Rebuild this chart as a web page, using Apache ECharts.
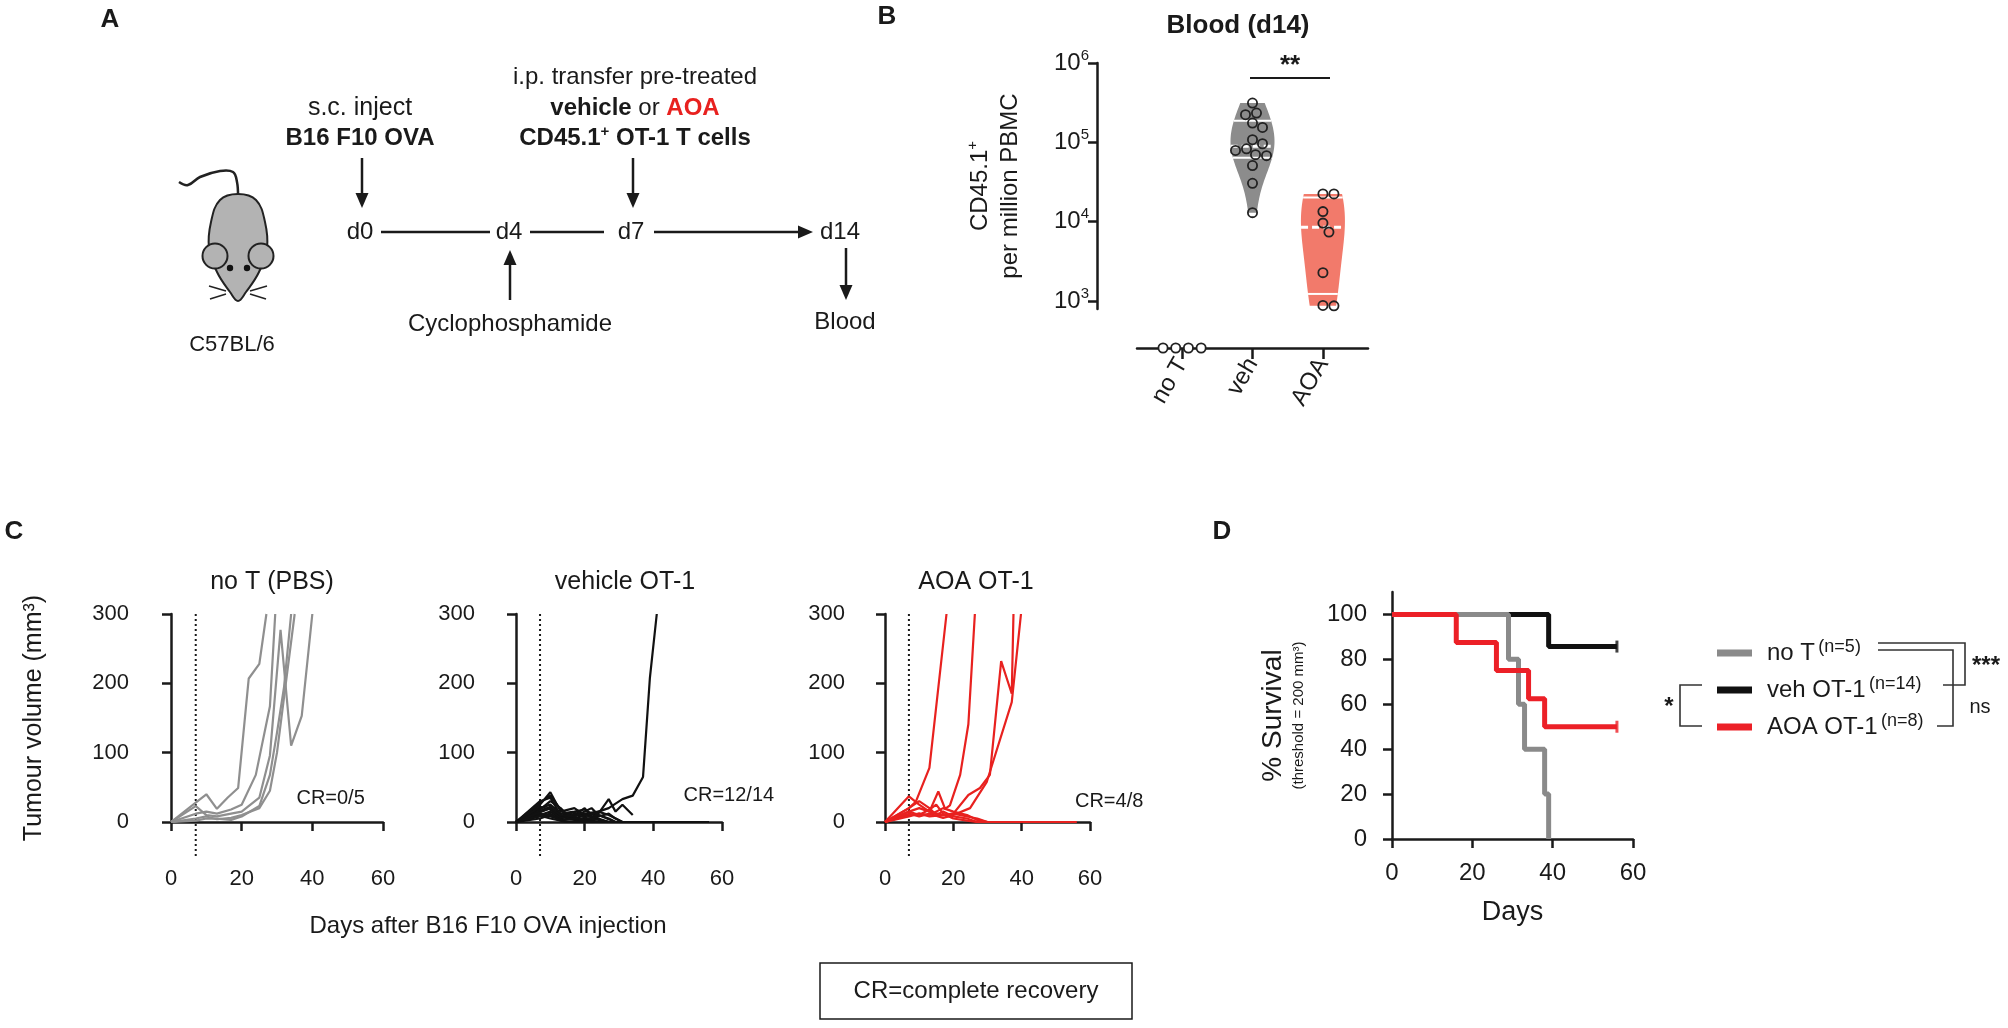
<!DOCTYPE html>
<html>
<head>
<meta charset="utf-8">
<script src="https://cdn.jsdelivr.net/npm/echarts@6/dist/echarts.min.js"></script>
<style>
  html, body { margin: 0; padding: 0; background: #fff; }
  #chart { width: 2008px; height: 1028px; }
</style>
</head>
<body>
<div id="chart"></div>
<script>
// ---------- data ----------
// B: CD45.1+ cells per million PBMC in blood at d14
const bCategories = ['no T', 'veh', 'AOA'];
const bTicks = [1e3, 1e4, 1e5, 1e6];
const bloodNoT = [0, 0, 0, 0];
const bloodVeh = [313000, 234000, 223000, 175000, 154000, 108000, 96000, 83000, 79000, 70000, 68000, 51000, 30500, 13000];
const bloodAOA = [22400, 22400, 13400, 9600, 7400, 2280, 880, 870];

// C: tumour volume (mm3) per mouse, [day, volume]
const transferDay = 7;
const noTMice = [
  [[0,0],[7,28],[10,40],[13,19],[16,35],[19,49],[22,207],[25,228],[27,300]],
  [[0,0],[7,12],[10,15],[13,12],[17,18],[20,25],[24,68],[28,167],[29.5,300]],
  [[0,0],[7,23],[10,10],[13,8],[17,12],[20,15],[25,35],[28,96],[31,277],[34,110],[37,153],[40,300]],
  [[0,0],[7,2],[10,5],[13,5],[17,3],[20,8],[25,23],[28,68],[30,129],[32,195],[34,300]],
  [[0,0],[7,5],[10,8],[13,4],[17,6],[20,10],[25,20],[28,45],[30,100],[32,180],[35,300]]
];
const vehMice = [
  [[0,0],[7,15],[10,20],[13,8],[17,10],[20,12],[24,15],[27,20],[31,33],[34,38],[37,65],[39,208],[41,300]],
  [[0,0],[7,25],[10,43],[13,15],[17,20],[20,10],[24,12],[27,33],[29,15],[31,25],[34,10]],
  [[0,0],[7,30],[10,35],[13,10],[15,5],[17,8],[20,3],[24,0],[56,0]],
  [[0,0],[7,20],[10,25],[13,12],[17,15],[20,18],[22,12],[24,5],[27,0],[56,0]],
  [[0,0],[7,10],[10,15],[13,5],[17,10],[20,20],[22,8],[24,10],[27,5],[29,0],[56,0]],
  [[0,0],[7,18],[10,30],[13,20],[15,10],[17,5],[20,5],[24,0],[56,0]],
  [[0,0],[7,12],[10,8],[13,4],[17,3],[20,0],[56,0]],
  [[0,0],[7,22],[10,18],[13,6],[17,12],[20,8],[24,15],[27,10],[29,5],[31,0],[56,0]],
  [[0,0],[7,8],[10,12],[13,3],[17,5],[20,10],[24,4],[27,0],[56,0]],
  [[0,0],[7,28],[10,38],[13,18],[15,8],[17,4],[20,2],[22,0],[56,0]],
  [[0,0],[7,5],[10,10],[13,2],[17,6],[20,4],[24,8],[27,12],[29,5],[31,0],[56,0]],
  [[0,0],[7,16],[10,22],[13,9],[17,14],[20,6],[24,3],[27,0],[56,0]],
  [[0,0],[7,14],[10,20],[13,10],[17,8],[20,15],[22,20],[24,10],[27,4],[29,0],[56,0]],
  [[0,0],[7,9],[10,5],[13,2],[15,0],[56,0]]
];
const aoaMice = [
  [[0,0],[7,20],[9,29],[13,78],[18,300]],
  [[0,0],[7,15],[10,20],[13,15],[15.6,44],[17.6,19],[19,24],[22,68],[24.4,141],[26.3,300]],
  [[0,0],[7,10],[10,12],[13,8],[17,10],[20,12],[24.4,39],[27.8,49],[30.7,68],[34,232],[37.1,185],[37.6,300]],
  [[0,0],[7,12],[10,8],[13,12],[17,6],[20,10],[24.9,20],[29.8,58],[31.7,88],[37.1,173],[39.8,300]],
  [[0,0],[7,37],[10,25],[13,15],[17,10],[20,12],[24,8],[27,5],[30,0],[56,0]],
  [[0,0],[7,20],[10,30],[13,20],[15,10],[17,15],[20,8],[24,5],[27,0],[56,0]],
  [[0,0],[7,8],[10,12],[13,10],[17,20],[20,15],[24,10],[27,3],[30,0],[56,0]],
  [[0,0],[7,15],[10,10],[13,18],[15,25],[17,12],[20,5],[24,2],[27,0],[56,0]]
];
const crText = ['CR=0/5', 'CR=12/14', 'CR=4/8'];

// D: Kaplan-Meier survival (threshold 200 mm3)
const survNames = ['no T', 'veh OT-1', 'AOA OT-1'];
const survN = [5, 14, 8];
const survNoTDays = [0, 29, 31.5, 33, 38, 39];
const survNoT = [100, 80, 60, 40, 20, 0];
const survVehDays = [0, 39, 56];
const survVeh = [100, 85.7, 85.7];
const survAOADays = [0, 16, 26, 34, 38, 56];
const survAOA = [100, 87.5, 75, 62.5, 50, 50];
const survTicks = [0, 20, 40, 60, 80, 100];

// ---------- styling ----------
const FONT = "'Liberation Sans', Arial, Helvetica, sans-serif";
const INK = '#1a1a1a';
const GREY = '#8f8f8f';
const RED = '#e8211f';

const chart = echarts.init(document.getElementById('chart'), null, { renderer: 'canvas' });

function axisLineStyle() { return { show: true, lineStyle: { color: INK, width: 2.5 } }; }
function tickStyle(len) { return { show: true, length: len || 8, lineStyle: { color: INK, width: 2.5 } }; }

// ---------- helpers for panel B ----------
function log10(v) { return Math.log(v) / Math.LN10; }
function quantile(sorted, p) {
  const pos = (sorted.length + 1) * p;
  const lo = Math.floor(pos), f = pos - lo;
  if (lo < 1) return sorted[0];
  if (lo >= sorted.length) return sorted[sorted.length - 1];
  return sorted[lo - 1] + f * (sorted[lo] - sorted[lo - 1]);
}
function kde(logs, h, t) {
  let s = 0;
  for (const v of logs) { const z = (t - v) / h; s += Math.exp(-0.5 * z * z); }
  return s;
}
function swarm(ys, minDist, step) {
  const order = ys.map((y, i) => i).sort((a, b) => ys[a] - ys[b]);
  const placed = [], off = new Array(ys.length);
  for (const i of order) {
    for (let k = 0; k < 400; k++) {
      const cand = k === 0 ? 0 : (k % 2 ? 1 : -1) * Math.ceil(k / 2) * step;
      if (placed.every(p => (p.x - cand) ** 2 + (p.y - ys[i]) ** 2 >= minDist * minDist)) {
        off[i] = cand; placed.push({ x: cand, y: ys[i] }); break;
      }
    }
  }
  return off;
}

const bGroups = [
  { x: 2, values: bloodVeh, color: '#8c8c8c', bw: 0.3 },
  { x: 3, values: bloodAOA, color: '#f27a6b', bw: 0.5 }
];
const R = 4.6, HALFW = 22;

function renderViolin(params, api) {
  const g = bGroups[params.dataIndex];
  const logs = g.values.map(log10);
  const lo = Math.min(...logs), hi = Math.max(...logs);
  const steps = 70, prof = [];
  let maxD = 0;
  for (let i = 0; i <= steps; i++) {
    const t = lo + (hi - lo) * i / steps;
    const d = kde(logs, g.bw, t);
    prof.push([t, d]); maxD = Math.max(maxD, d);
  }
  const cx = api.coord([g.x, Math.pow(10, lo)])[0];
  const widthAt = t => kde(logs, g.bw, t) / maxD * HALFW;
  const left = [], right = [];
  prof.forEach(([t, d]) => {
    const y = api.coord([g.x, Math.pow(10, t)])[1];
    const w = d / maxD * HALFW;
    left.push([cx - w, y]); right.push([cx + w, y]);
  });
  const children = [{
    type: 'polygon', shape: { points: left.concat(right.reverse()) },
    style: { fill: g.color }
  }];
  const sorted = g.values.slice().sort((a, b) => a - b);
  [[0.25, false], [0.5, true], [0.75, false]].forEach(([p, isMed]) => {
    const q = quantile(sorted, p);
    const y = api.coord([g.x, q])[1];
    const w = widthAt(log10(q));
    children.push({
      type: 'line', shape: { x1: cx - w, y1: y, x2: cx + w, y2: y },
      style: { stroke: '#fff', lineWidth: isMed ? 3 : 2, lineDash: isMed ? [7, 4] : null }
    });
  });
  const ys = g.values.map(v => api.coord([g.x, v])[1]);
  const offs = swarm(ys, 2 * R + 1.5, 1);
  ys.forEach((y, i) => {
    children.push({
      type: 'circle', shape: { cx: cx + offs[i], cy: y, r: R },
      style: { fill: 'rgba(0,0,0,0)', stroke: '#222', lineWidth: 1.8 }
    });
  });
  return { type: 'group', children };
}

function renderZeroRow(params, api) {
  const p = api.coord([1, 0]);
  const n = bloodNoT.length, gap = 2 * R + 3.5;
  const children = bloodNoT.map((v, i) => ({
    type: 'circle', shape: { cx: p[0] + (i - (n - 1) / 2) * gap, cy: api.coord([1, v])[1], r: R },
    style: { fill: '#fff', stroke: '#222', lineWidth: 1.8 }
  }));
  return { type: 'group', children };
}

// ---------- panel A graphic helpers ----------
function txt(x, y, text, size, opts) {
  opts = opts || {};
  const style = {
    text: text, fontSize: size, fontWeight: opts.bold ? 'bold' : 'normal', fontFamily: FONT,
    fill: opts.color || INK, align: opts.align || 'center', verticalAlign: opts.va || 'middle'
  };
  if (opts.rich) style.rich = opts.rich;
  return { type: 'text', x: x, y: y, rotation: opts.rot || 0, z: 10, style: style };
}
function arrow(x1, y1, x2, y2) {
  const a = Math.atan2(y2 - y1, x2 - x1), hl = 15, hw = 6.5;
  const bx = x2 - hl * Math.cos(a), by = y2 - hl * Math.sin(a);
  return [
    { type: 'line', shape: { x1: x1, y1: y1, x2: bx, y2: by }, style: { stroke: INK, lineWidth: 2.5 } },
    { type: 'polygon', shape: { points: [[x2, y2], [bx - hw * Math.sin(a), by + hw * Math.cos(a)], [bx + hw * Math.sin(a), by - hw * Math.cos(a)]] }, style: { fill: INK } }
  ];
}
function seg(x1, y1, x2, y2, w, color) {
  return { type: 'line', shape: { x1: x1, y1: y1, x2: x2, y2: y2 }, style: { stroke: color || INK, lineWidth: w || 2.5 } };
}
function poly(points, w, color) {
  return { type: 'polyline', shape: { points: points }, style: { stroke: color || '#333', lineWidth: w || 1.6, fill: null } };
}

const boldRich = {
  b: { fontSize: 24, fontWeight: 'bold', fontFamily: FONT, fill: INK, lineHeight: 28 },
  n: { fontSize: 24, fontFamily: FONT, fill: INK, lineHeight: 28 },
  r: { fontSize: 24, fontWeight: 'bold', fontFamily: FONT, fill: RED, lineHeight: 28 },
  s: { fontSize: 15, fontWeight: 'bold', fontFamily: FONT, fill: INK, lineHeight: 14, verticalAlign: 'top' }
};

const graphics = [
  // panel letters
  txt(110, 20, 'A', 26, { bold: true }),
  txt(887, 17, 'B', 26, { bold: true }),
  txt(14, 532, 'C', 26, { bold: true }),
  txt(1222, 532, 'D', 26, { bold: true }),

  // mouse
  { type: 'polyline', shape: { points: [[179,182],[188,185],[200,177],[220,171],[233,172],[237,182],[238,196]], smooth: 0.4 },
    style: { stroke: '#222', lineWidth: 2.5, fill: null } },
  { type: 'polygon', shape: { points: [[238,194],[256,200],[265,222],[267,248],[259,272],[246,292],[238,301],[230,292],[217,272],[209,248],[211,222],[220,200]], smooth: 0.4 },
    style: { fill: '#b3b3b3', stroke: '#222', lineWidth: 2 } },
  { type: 'circle', shape: { cx: 215, cy: 256, r: 12.5 }, style: { fill: '#b3b3b3', stroke: '#222', lineWidth: 2 } },
  { type: 'circle', shape: { cx: 261, cy: 256, r: 12.5 }, style: { fill: '#b3b3b3', stroke: '#222', lineWidth: 2 } },
  { type: 'circle', shape: { cx: 230, cy: 268, r: 3.2 }, style: { fill: '#111' } },
  { type: 'circle', shape: { cx: 247, cy: 268, r: 3.2 }, style: { fill: '#111' } },
  seg(226, 291, 209, 286, 1.5, '#222'), seg(226, 294, 210, 299, 1.5, '#222'),
  seg(250, 291, 267, 286, 1.5, '#222'), seg(250, 294, 266, 299, 1.5, '#222'),
  txt(232, 345, 'C57BL/6', 22),

  // timeline texts
  txt(360, 108, 's.c. inject', 25),
  txt(360, 138, 'B16 F10 OVA', 24, { bold: true }),
  txt(635, 77, 'i.p. transfer pre-treated', 24),
  txt(635, 108, '{b|vehicle} {n|or} {r|AOA}', 24, { rich: boldRich }),
  txt(635, 138, '{b|CD45.1}{s|+}{b| OT-1 T cells}', 24, { rich: boldRich }),
  txt(360, 232, 'd0', 24),
  txt(509, 232, 'd4', 24),
  txt(631, 232, 'd7', 24),
  txt(840, 232, 'd14', 24),
  seg(381, 232, 490, 232), seg(530, 232, 604, 232),
  txt(510, 324, 'Cyclophosphamide', 24),
  txt(845, 322, 'Blood', 24),
  ...arrow(362, 158, 362, 208),
  ...arrow(633, 158, 633, 208),
  ...arrow(654, 232, 813, 232),
  ...arrow(510, 300, 510, 250),
  ...arrow(846, 248, 846, 300),

  // panel B annotation
  txt(1290, 66, '**', 26, { bold: true }),
  seg(1250, 78, 1330, 78, 2),

  // panel C common labels
  txt(488, 926, 'Days after B16 F10 OVA injection', 24),
  { type: 'rect', shape: { x: 820, y: 963, width: 312, height: 56 }, style: { fill: null, stroke: INK, lineWidth: 1.5 } },
  txt(976, 991, 'CR=complete recovery', 24),

  // panel D significance brackets
  poly([[1878, 643], [1965, 643], [1965, 685], [1943, 685]]),
  poly([[1878, 650], [1953, 650], [1953, 726], [1937, 726]]),
  poly([[1702, 685], [1680, 685], [1680, 726], [1702, 726]]),
  txt(1986, 666, '***', 24, { bold: true }),
  txt(1980, 707, 'ns', 20),
  txt(1669, 707, '*', 24, { bold: true })
];

// ---------- series ----------
const series = [];

series.push({
  type: 'custom', xAxisIndex: 0, yAxisIndex: 0, renderItem: renderViolin, silent: true,
  data: bGroups.map(g => [g.x, g.values[0]]), encode: { x: 0, y: 1 }, z: 3
});
series.push({
  type: 'custom', xAxisIndex: 1, yAxisIndex: 1, renderItem: renderZeroRow, silent: true, clip: false,
  data: [[1, 0]], encode: { x: 0, y: 1 }, z: 5
});

const cSets = [
  { mice: noTMice, color: GREY, cr: [35.5, 34] },
  { mice: vehMice, color: '#111', cr: [48.8, 38] },
  { mice: aoaMice, color: RED, cr: [55.6, 29] }
];
cSets.forEach((set, k) => {
  const ax = 2 + k;
  set.mice.forEach(m => {
    series.push({
      type: 'line', xAxisIndex: ax, yAxisIndex: ax, data: m, symbol: 'none', silent: true,
      lineStyle: { color: set.color, width: 2.2 }, clip: true, z: 3
    });
  });
  series.push({
    type: 'line', xAxisIndex: ax, yAxisIndex: ax, symbol: 'none', silent: true, clip: false,
    data: [[transferDay, 300], [transferDay, -50]],
    lineStyle: { color: INK, width: 2, type: [2, 3] }, z: 2
  });
  series.push({
    type: 'scatter', xAxisIndex: ax, yAxisIndex: ax, silent: true, data: [set.cr],
    symbolSize: 0, itemStyle: { color: INK, opacity: 1 },
    label: { show: true, position: 'right', distance: 0, formatter: crText[k], fontSize: 20,
      fontFamily: FONT, color: INK, opacity: 1 }
  });
});

const survSets = [
  { name: 'veh OT-1', days: survVehDays, surv: survVeh, color: '#111', censor: true },
  { name: 'no T', days: survNoTDays, surv: survNoT, color: '#8a8a8a', censor: false },
  { name: 'AOA OT-1', days: survAOADays, surv: survAOA, color: '#ec2027', censor: true }
];
survSets.forEach(s => {
  series.push({
    type: 'line', name: s.name, xAxisIndex: 5, yAxisIndex: 5, step: 'end', symbol: 'none', silent: true,
    data: s.days.map((d, i) => [d, s.surv[i]]),
    itemStyle: { color: s.color }, lineStyle: { color: s.color, width: 5 }, z: 3
  });
  if (s.censor) {
    const last = s.days.length - 1;
    series.push({
      type: 'scatter', xAxisIndex: 5, yAxisIndex: 5, silent: true, symbol: 'rect', symbolSize: [3, 12],
      data: [[s.days[last], s.surv[last]]], itemStyle: { color: s.color }, z: 4
    });
  }
});

// ---------- axes ----------
const cGrids = [
  { left: 171, width: 212, yOff: 34 },
  { left: 516, width: 206, yOff: 33 },
  { left: 885, width: 205, yOff: 32 }
];
const labelBase = { color: INK, fontFamily: FONT, fontSize: 22 };

const grid = [
  { left: 1137, top: 63, width: 231, height: 246 },
  { left: 1137, top: 330, width: 231, height: 18 }
].concat(cGrids.map(g => ({ left: g.left, top: 614, width: g.width, height: 208 })))
 .concat([{ left: 1392, top: 592, width: 241, height: 247 }])
 .map(g => Object.assign({ outerBoundsMode: 'none', containLabel: false }, g));

const xAxis = [
  { gridIndex: 0, type: 'value', min: 0.36, max: 3.64, show: false },
  { gridIndex: 1, type: 'value', min: 0.36, max: 3.64, position: 'bottom',
    axisLine: axisLineStyle(), splitLine: { show: false },
    axisTick: Object.assign(tickStyle(11), { customValues: [1, 2, 3] }),
    axisLabel: Object.assign({}, labelBase, { fontSize: 24, rotate: 60, margin: 12, customValues: [1, 2, 3],
      formatter: v => bCategories[Math.round(v) - 1] }) }
].concat(cGrids.map((g, k) => ({
  gridIndex: 2 + k, type: 'value', min: 0, max: 60, interval: 20, offset: 36,
  axisLine: axisLineStyle(), axisTick: tickStyle(9), splitLine: { show: false },
  axisLabel: Object.assign({}, labelBase, { margin: 10 })
}))).concat([{
  gridIndex: 5, type: 'value', min: 0, max: 60, interval: 20, offset: 12,
  axisLine: axisLineStyle(), axisTick: tickStyle(9), splitLine: { show: false },
  axisLabel: Object.assign({}, labelBase, { fontSize: 24, margin: 10 }),
  name: 'Days', nameLocation: 'middle', nameGap: 48,
  nameTextStyle: { color: INK, fontFamily: FONT, fontSize: 27 }
}]);

const supRich = {
  b: { fontSize: 24, fontFamily: FONT, color: INK, lineHeight: 30 },
  s: { fontSize: 15, fontFamily: FONT, color: INK, lineHeight: 14, verticalAlign: 'top' }
};

const yAxis = [
  { gridIndex: 0, type: 'log', logBase: 10, min: Math.pow(10, 2.9), max: 1e6, offset: 40,
    axisLine: axisLineStyle(), splitLine: { show: false }, minorTick: { show: false },
    axisTick: Object.assign(tickStyle(9), { customValues: bTicks }),
    axisLabel: { customValues: bTicks, margin: 8, rich: supRich,
      formatter: v => '{b|10}{s|' + Math.round(v > 20 ? log10(v) : v) + '}' },
    name: '{b|CD45.1}{s|+}\n{b|per million PBMC}', nameLocation: 'middle', nameGap: 72, nameRotate: 90,
    nameTextStyle: { rich: supRich } },
  { gridIndex: 1, type: 'value', min: 0, max: 1, show: false }
].concat(cGrids.map((g, k) => ({
  gridIndex: 2 + k, type: 'value', min: 0, max: 300, interval: 100, offset: g.yOff,
  axisLine: axisLineStyle(), axisTick: tickStyle(9), splitLine: { show: false },
  axisLabel: Object.assign({}, labelBase, { margin: 8 }),
  name: k === 0 ? 'Tumour volume (mm³)' : '', nameLocation: 'middle', nameGap: 90, nameRotate: 90,
  nameTextStyle: { color: INK, fontFamily: FONT, fontSize: 25 }
}))).concat([{
  gridIndex: 5, type: 'value', min: 0, max: 110, offset: 17,
  axisLine: axisLineStyle(), splitLine: { show: false },
  axisTick: Object.assign(tickStyle(9), { customValues: survTicks }),
  axisLabel: Object.assign({}, labelBase, { fontSize: 24, margin: 8, customValues: survTicks }),
  name: '{a|% Survival}\n{t|(threshold = 200 mm³)}', nameLocation: 'middle', nameGap: 66, nameRotate: 90,
  nameTextStyle: { rich: {
    a: { fontSize: 28, fontFamily: FONT, color: INK, lineHeight: 32 },
    t: { fontSize: 15, fontFamily: FONT, color: INK, lineHeight: 20 }
  } }
}]);

const titleStyle = { color: INK, fontFamily: FONT, fontSize: 25, fontWeight: 'normal' };

chart.setOption({
  animation: false,
  backgroundColor: '#fff',
  title: [
    { text: 'Blood (d14)', left: 1233, top: 8, textAlign: 'center',
      textStyle: Object.assign({}, titleStyle, { fontWeight: 'bold', fontSize: 26 }) },
    { text: 'no T (PBS)', left: 267, top: 565, textAlign: 'center', textStyle: titleStyle },
    { text: 'vehicle OT-1', left: 620, top: 565, textAlign: 'center', textStyle: titleStyle },
    { text: 'AOA OT-1', left: 971, top: 565, textAlign: 'center', textStyle: titleStyle }
  ],
  legend: {
    orient: 'vertical', left: 1712, top: 633, itemWidth: 35, itemHeight: 7, itemGap: 10,
    icon: 'rect', data: survNames, selectedMode: false,
    formatter: name => '{a|' + name + '} {n|(n=' + survN[survNames.indexOf(name)] + ')}',
    textStyle: { padding: [0, 0, 0, 10], rich: {
      a: { fontSize: 24, fontFamily: FONT, color: INK, lineHeight: 30 },
      n: { fontSize: 18, fontFamily: FONT, color: INK, lineHeight: 20, verticalAlign: 'top' }
    } }
  },
  grid: grid,
  xAxis: xAxis,
  yAxis: yAxis,
  series: series,
  graphic: { elements: graphics }
});
</script>
</body>
</html>
